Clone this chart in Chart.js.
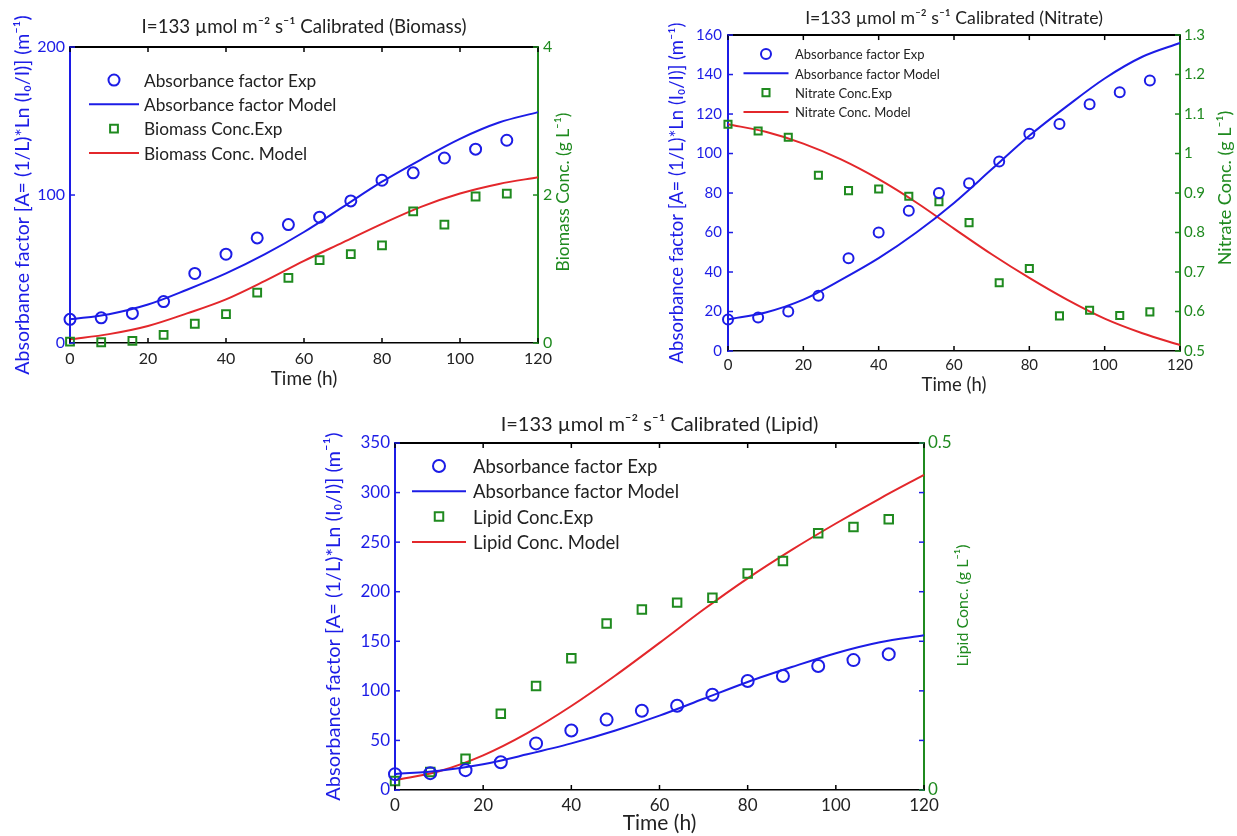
<!DOCTYPE html>
<html>
<head>
<meta charset="utf-8">
<style>
  body { margin: 0; background: #fff; width: 1237px; height: 836px; position: relative; overflow: hidden; }
  canvas { position: absolute; }
</style>
</head>
<body>
<canvas id="biomassChart" width="600" height="400" style="left:0;top:0"></canvas>
<canvas id="nitrateChart" width="597" height="400" style="left:640px;top:0"></canvas>
<canvas id="lipidChart" width="680" height="436" style="left:300px;top:400px"></canvas>

<script src="https://cdn.jsdelivr.net/npm/chart.js@4"></script>
<script>
  // experimental sampling times (h) and model curve times (h)
  const timeExp = [0, 8, 16, 24, 32, 40, 48, 56, 64, 72, 80, 88, 96, 104, 112];
  const timeModel = [0, 10, 20, 30, 40, 50, 60, 70, 80, 90, 100, 110, 120];

  // absorbance factor, same in all three panels (m-1)
  const absExp = [16, 17, 20, 28, 47, 60, 71, 80, 85, 96, 110, 115, 125, 131, 137];
  const absModel = [16, 19.5, 26, 36, 47, 60, 75, 92, 109, 124, 138, 149, 156];

  // biomass (g/L)
  const biomassExp = [0.02, 0.01, 0.03, 0.11, 0.26, 0.39, 0.68, 0.88, 1.12, 1.20, 1.32, 1.78, 1.60, 1.98, 2.02];
  const biomassModel = [0.05, 0.12, 0.23, 0.40, 0.59, 0.84, 1.11, 1.36, 1.61, 1.84, 2.02, 2.15, 2.24];

  // nitrate (g/L)
  const nitrateExp = [1.074, 1.057, 1.041, 0.945, 0.906, 0.910, 0.892, 0.878, 0.825, 0.673, 0.709, 0.589, 0.603, 0.590, 0.599];
  const nitrateModel = [1.074, 1.055, 1.025, 0.985, 0.935, 0.876, 0.810, 0.745, 0.685, 0.630, 0.582, 0.545, 0.515];

  // lipid (g/L)
  const lipidExp = [0.013, 0.026, 0.045, 0.110, 0.150, 0.190, 0.240, 0.260, 0.270, 0.277, 0.312, 0.330, 0.370, 0.379, 0.390];
  const lipidModel = [0.014, 0.027, 0.050, 0.082, 0.121, 0.165, 0.212, 0.260, 0.305, 0.346, 0.384, 0.420, 0.454];

  const BLUE = '#1c1ce6';
  const GREEN = '#1f8a1f';
  const RED = '#e3272b';
  const INK = '#222';
  const FONT = "Lato, 'DejaVu Sans', sans-serif";
  const absTitle = 'Absorbance factor [A= (1/L)*Ln (I\u2080/I)] (m\u207B\u00B9)';

  const pts = (xs, ys) => xs.map((x, i) => ({ x: x, y: ys[i] }));
  const f = size => ({ family: FONT, size: size, weight: 'normal' });

  // inward tick marks, top frame line and the right axis title (reads bottom-up like MATLAB)
  const framePlugin = {
    id: 'frame',
    afterDraw(chart, args, opts) {
      const { ctx, chartArea: a, scales } = chart;
      const len = 5;
      const seg = (x1, y1, x2, y2, c, w) => {
        ctx.strokeStyle = c; ctx.lineWidth = w || 1.5;
        ctx.beginPath(); ctx.moveTo(x1, y1); ctx.lineTo(x2, y2); ctx.stroke();
      };
      ctx.save();
      seg(a.left, a.top, a.right, a.top, '#000', 2);
      scales.x.ticks.forEach(t => {
        const px = scales.x.getPixelForValue(t.value);
        seg(px, a.bottom, px, a.bottom - len, '#000');
        seg(px, a.top, px, a.top + len, '#000');
      });
      scales.y.ticks.forEach(t => {
        const py = scales.y.getPixelForValue(t.value);
        seg(a.left, py, a.left + len, py, BLUE);
        if (opts.mirrorLeft) seg(a.right, py, a.right - len, py, BLUE);
      });
      scales.y2.ticks.forEach(t => {
        const py = scales.y2.getPixelForValue(t.value);
        seg(a.right, py, a.right - len, py, GREEN);
      });

      const rt = opts.rightTitle;
      ctx.translate(a.right + rt.dx, (a.top + a.bottom) / 2 + rt.dy);
      ctx.rotate(-Math.PI / 2);
      ctx.font = rt.size + 'px ' + FONT;
      ctx.fillStyle = GREEN;
      ctx.textAlign = 'center';
      ctx.textBaseline = 'middle';
      ctx.fillText(rt.text, 0, 0);
      ctx.restore();
    }
  };

  // legend drawn inside the plot area, one row per dataset
  const boxLegendPlugin = {
    id: 'boxLegend',
    afterDraw(chart, args, o) {
      const { ctx, chartArea: a } = chart;
      ctx.save();
      ctx.font = o.size + 'px ' + FONT;
      ctx.textBaseline = 'middle';
      chart.data.datasets.forEach((ds, i) => {
        const cx = a.left + o.dx;
        const cy = a.top + o.dy + i * o.gap;
        ctx.strokeStyle = ds.borderColor;
        ctx.lineWidth = 2;
        ctx.beginPath();
        if (ds.showLine === false) {
          if (ds.pointStyle === 'rect') {
            const s = ds.pointRadius * Math.SQRT1_2;
            ctx.rect(cx - s, cy - s, 2 * s, 2 * s);
          } else {
            ctx.arc(cx, cy, ds.pointRadius, 0, Math.PI * 2);
          }
        } else {
          ctx.moveTo(cx - o.line / 2, cy);
          ctx.lineTo(cx + o.line / 2, cy);
        }
        ctx.stroke();
        ctx.fillStyle = INK;
        ctx.fillText(ds.label, a.left + o.tx, cy + 1);
      });
      ctx.restore();
    }
  };

  function buildDatasets(name, concExp, concModel, r) {
    return [
      {
        label: 'Absorbance factor Exp', data: pts(timeExp, absExp), yAxisID: 'y',
        showLine: false, pointStyle: 'circle', pointRadius: r, pointBorderWidth: 2,
        borderColor: BLUE, pointBackgroundColor: 'rgba(0,0,0,0)', clip: false
      },
      {
        label: 'Absorbance factor Model', data: pts(timeModel, absModel), yAxisID: 'y',
        borderColor: BLUE, borderWidth: 2, pointRadius: 0, cubicInterpolationMode: 'monotone', clip: false
      },
      {
        label: name + ' Conc.Exp', data: pts(timeExp, concExp), yAxisID: 'y2',
        showLine: false, pointStyle: 'rect', pointRadius: r, pointBorderWidth: 2,
        borderColor: GREEN, pointBackgroundColor: 'rgba(0,0,0,0)', clip: false
      },
      {
        label: name + ' Conc. Model', data: pts(timeModel, concModel), yAxisID: 'y2',
        borderColor: RED, borderWidth: 2, pointRadius: 0, cubicInterpolationMode: 'monotone', clip: false
      }
    ];
  }

  function makeChart(id, c) {
    new Chart(document.getElementById(id), {
      type: 'line',
      data: { datasets: buildDatasets(c.name, c.exp, c.model, c.r) },
      plugins: [framePlugin, boxLegendPlugin],
      options: {
        responsive: false,
        animation: false,
        devicePixelRatio: 1,
        layout: { padding: 0 },
        scales: {
          x: {
            type: 'linear', min: 0, max: 120,
            ticks: { stepSize: 20, color: INK, font: f(c.tick), padding: c.xPad, maxRotation: 0 },
            grid: { drawOnChartArea: false, drawTicks: false },
            border: { color: '#000', width: 1.5 },
            title: { display: true, text: 'Time (h)', color: INK, font: f(c.xLab), padding: { top: 0, bottom: c.xTitlePad } },
            afterFit: s => { s.height = c.bottom; }
          },
          y: {
            position: 'left', min: 0, max: c.yMax,
            ticks: { stepSize: c.yStep, color: BLUE, font: f(c.tick), padding: c.yPad },
            grid: { drawOnChartArea: false, drawTicks: false },
            border: { color: BLUE, width: 2 },
            title: { display: true, text: absTitle, color: BLUE, font: f(c.yLab), padding: { top: c.yTitlePad, bottom: 0 } },
            afterFit: s => { s.width = c.left; }
          },
          y2: {
            position: 'right', min: c.y2Min, max: c.y2Max,
            ticks: { stepSize: c.y2Step, color: GREEN, font: f(c.tick), padding: c.y2Pad, callback: v => String(+v.toFixed(1)) },
            grid: { drawOnChartArea: false, drawTicks: false },
            border: { color: GREEN, width: 2 },
            afterFit: s => { s.width = c.right; }
          }
        },
        plugins: {
          legend: { display: false },
          tooltip: { enabled: false },
          title: {
            display: true, fullSize: false, color: INK, font: f(c.titleSize),
            text: 'I=133 \u00B5mol m\u207B\u00B2 s\u207B\u00B9 Calibrated (' + c.name + ')',
            padding: { top: c.titleTop, bottom: c.titleBottom }
          },
          frame: {
            mirrorLeft: !!c.mirror,
            rightTitle: { text: c.name + ' Conc. (g L\u207B\u00B9)', size: c.y2Lab, dx: c.y2TitleX, dy: c.y2TitleY }
          },
          boxLegend: c.legend
        }
      }
    });
  }

  makeChart('biomassChart', {
    name: 'Biomass', exp: biomassExp, model: biomassModel, r: 5.5,
    yMax: 200, yStep: 100, y2Min: 0, y2Max: 4, y2Step: 2,
    left: 70, right: 62, bottom: 57,
    tick: 16, titleSize: 18.7, titleTop: 15.8, titleBottom: 8.8,
    xLab: 19, xPad: 6, xTitlePad: 9.6,
    yLab: 19.5, yPad: 5, yTitlePad: 11.3,
    y2Lab: 17.4, y2Pad: 5, y2TitleX: 25, y2TitleY: -3,
    legend: { dx: 44, dy: 33, gap: 24.3, line: 50, tx: 74, size: 17.3 }
  });

  makeChart('nitrateChart', {
    name: 'Nitrate', exp: nitrateExp, model: nitrateModel, r: 5,
    yMax: 160, yStep: 20, y2Min: 0.5, y2Max: 1.3, y2Step: 0.1,
    left: 88, right: 57, bottom: 49,
    tick: 15, titleSize: 17.7, titleTop: 7.4, titleBottom: 6.4,
    xLab: 18.5, xPad: 5, xTitlePad: 3.9,
    yLab: 18.5, yPad: 6, yTitlePad: 25.9,
    y2Lab: 18, y2Pad: 4, y2TitleX: 45, y2TitleY: -5,
    legend: { dx: 38, dy: 19, gap: 19.3, line: 45, tx: 67, size: 13 }
  });

  makeChart('lipidChart', {
    name: 'Lipid', exp: lipidExp, model: lipidModel, r: 6, mirror: true,
    yMax: 350, yStep: 50, y2Min: 0, y2Max: 0.5, y2Step: 0.5,
    left: 95, right: 56, bottom: 46,
    tick: 17, titleSize: 20, titleTop: 13, titleBottom: 6,
    xLab: 21, xPad: 5, xTitlePad: 0.4,
    yLab: 20, yPad: 5, yTitlePad: 22,
    y2Lab: 16, y2Pad: 4, y2TitleX: 39, y2TitleY: -11,
    legend: { dx: 44, dy: 23, gap: 25.3, line: 54, tx: 78, size: 18.5 }
  });
</script>
</body>
</html>
